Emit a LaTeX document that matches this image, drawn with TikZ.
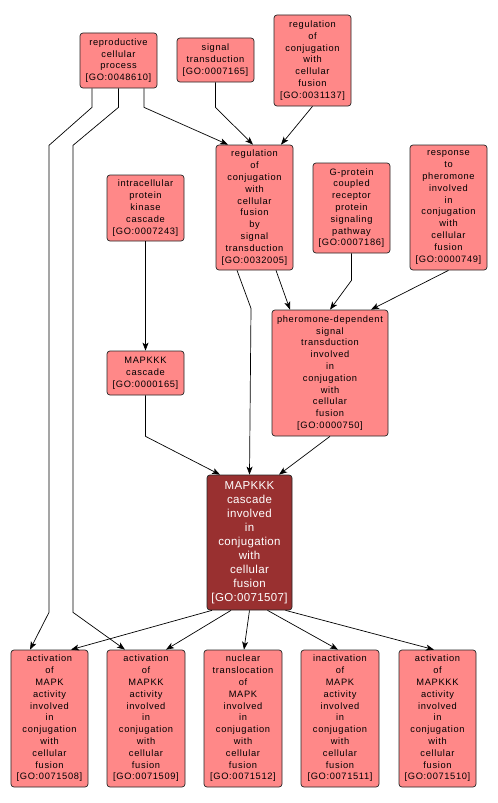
\documentclass[tikz,border=0pt]{standalone}
\usepackage{fontspec}
\setmainfont{Liberation Sans}
\newfontfamily\boxfont[LetterSpace=7]{Liberation Sans}
\newfontfamily\mainfont[LetterSpace=3]{Liberation Sans}
\usetikzlibrary{arrows.meta}
\definecolor{salmon}{RGB}{255,136,136}
\definecolor{darkred}{RGB}{153,48,48}
\begin{document}
\begin{tikzpicture}[x=1bp,y=-1bp,
  gobox/.style={draw=black!85, fill=salmon, rounded corners=3bp, line width=0.7bp,
    align=center, inner sep=0pt, minimum width=77bp,
    font=\boxfont\fontsize{9.3bp}{11.8bp}\selectfont},
  mainbox/.style={gobox, fill=darkred, text=white, minimum width=85bp,
    font=\mainfont\fontsize{11.5bp}{14bp}\selectfont},
  arr/.style={draw=black, line width=0.7bp, -{Stealth[length=8bp,width=6bp,inset=2bp]}}]
\useasboundingbox (0,0) rectangle (498,803);
\fill[white] (0,0) rectangle (498,803);

\node[gobox, minimum height=55bp] (rep) at (118.5,60.5) {reproductive\\cellular\\process\\{[GO:0048610]}};
\node[gobox, minimum height=44bp] (sig) at (215.5,60) {signal\\transduction\\{[GO:0007165]}};
\node[gobox, minimum height=91bp] (rc) at (312.5,60.5) {regulation\\of\\conjugation\\with\\cellular\\fusion\\{[GO:0031137]}};
\node[gobox, minimum height=125bp] (regsig) at (254.5,207.5) {regulation\\of\\conjugation\\with\\cellular\\fusion\\by\\signal\\transduction\\{[GO:0032005]}};
\node[gobox, minimum height=90bp] (gp) at (351.5,208) {G-protein\\coupled\\receptor\\protein\\signaling\\pathway\\{[GO:0007186]}};
\node[gobox, minimum height=125bp] (resp) at (448.5,207.5) {response\\to\\pheromone\\involved\\in\\conjugation\\with\\cellular\\fusion\\{[GO:0000749]}};
\node[gobox, minimum height=66bp] (ipk) at (145.5,208) {intracellular\\protein\\kinase\\cascade\\{[GO:0007243]}};
\node[gobox, minimum height=44bp] (mk) at (145.5,373) {MAPKKK\\cascade\\{[GO:0000165]}};
\node[gobox, minimum height=126bp, minimum width=116bp] (phd) at (330,373) {pheromone-dependent\\signal\\transduction\\involved\\in\\conjugation\\with\\cellular\\fusion\\{[GO:0000750]}};
\node[mainbox, minimum height=135bp] (main) at (249.5,542.5) {MAPKKK\\cascade\\involved\\in\\conjugation\\with\\cellular\\fusion\\{[GO:0071507]}};

\node[gobox, minimum height=137bp] (b1) at (49.5,718.5) {activation\\of\\MAPK\\activity\\involved\\in\\conjugation\\with\\cellular\\fusion\\{[GO:0071508]}};
\node[gobox, minimum height=137bp, minimum width=78bp] (b2) at (146,718.5) {activation\\of\\MAPKK\\activity\\involved\\in\\conjugation\\with\\cellular\\fusion\\{[GO:0071509]}};
\node[gobox, minimum height=137bp, minimum width=78bp] (b3) at (243,718.5) {nuclear\\translocation\\of\\MAPK\\involved\\in\\conjugation\\with\\cellular\\fusion\\{[GO:0071512]}};
\node[gobox, minimum height=137bp, minimum width=78bp] (b4) at (340,718.5) {inactivation\\of\\MAPK\\activity\\involved\\in\\conjugation\\with\\cellular\\fusion\\{[GO:0071511]}};
\node[gobox, minimum height=137bp] (b5) at (437.5,718.5) {activation\\of\\MAPKKK\\activity\\involved\\in\\conjugation\\with\\cellular\\fusion\\{[GO:0071510]}};

% edges
\draw[arr] ([xshift=25.5bp]rep.south) -- ++(0,19) -- ([xshift=-26.5bp]regsig.north);
\draw[arr] ([xshift=-26.5bp]rep.south) -- ++(0,19) -- ++(-43,38) -- ++(0,467) -- ([xshift=-19.5bp]b1.north);
\draw[arr] (rep.south) -- ++(0,19) -- ++(-45.5,38) -- ++(0,467) -- ([xshift=-21bp]b2.north);
\draw[arr] (sig.south) -- ++(0,25) -- ([xshift=-1.5bp]regsig.north);
\draw[arr] (rc.south) -- ([xshift=26.5bp]regsig.north);
\draw[arr] ([xshift=-17.5bp]regsig.south) -- ++(14,38) -- (main.north);
\draw[arr] ([xshift=21.5bp]regsig.south) -- ([xshift=-40bp]phd.north);
\draw[arr] (gp.south) -- ++(0,27) -- (phd.north);
\draw[arr] (resp.south) -- ([xshift=41bp]phd.north);
\draw[arr] (ipk.south) -- (mk.north);
\draw[arr] (mk.south) -- ++(0,41) -- ([xshift=-29.5bp]main.north);
\draw[arr] (phd.south) -- ([xshift=29.5bp]main.north);
\draw[arr] ([xshift=-37.5bp]main.south) -- ([xshift=21.5bp]b1.north);
\draw[arr] ([xshift=-18.5bp]main.south) -- ([xshift=20bp]b2.north);
\draw[arr] (main.south) -- ([xshift=1bp]b3.north);
\draw[arr] ([xshift=18bp]main.south) -- ([xshift=-2bp]b4.north);
\draw[arr] ([xshift=36bp]main.south) -- ([xshift=-3.5bp]b5.north);
\end{tikzpicture}
\end{document}
